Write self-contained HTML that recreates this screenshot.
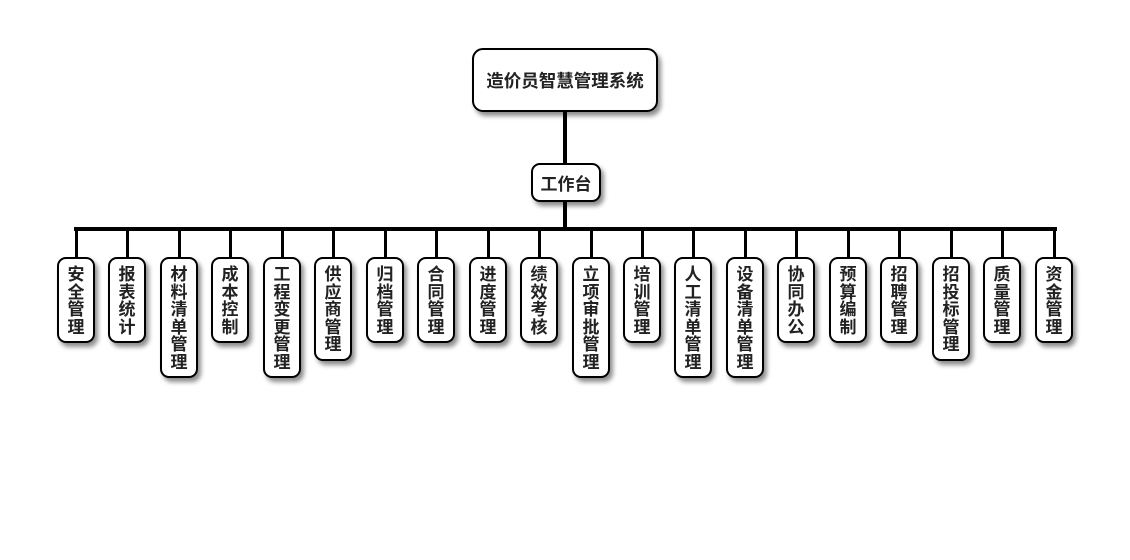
<!DOCTYPE html>
<html>
<head>
<meta charset="utf-8">
<style>
  html,body{margin:0;padding:0;background:#fff;}
  body{width:1130px;height:560px;position:relative;overflow:hidden;
    font-family:"Liberation Sans","Noto Sans CJK SC","WenQuanYi Zen Hei",sans-serif;}
  .box{position:absolute;box-sizing:border-box;border:2px solid #000;background:#fff;
    box-shadow:3px 4px 5px rgba(0,0,0,0.45);color:#222;font-weight:bold;}
  .h{display:flex;align-items:center;justify-content:center;font-size:17px;}
  .v{width:38px;border-radius:9px;font-size:17px;line-height:17.5px;text-align:center;
    padding-top:7px;}
  .v span{display:block;}
  .ln{position:absolute;background:#000;}
</style>
</head>
<body>
<!-- connectors -->
<div class="ln" style="left:563px;top:110px;width:4px;height:55px;"></div>
<div class="ln" style="left:563px;top:200px;width:4px;height:30px;"></div>
<div class="ln" style="left:74px;top:227px;width:983px;height:4px;"></div>

<div class="box h" style="left:472px;top:48px;width:186px;height:64px;border-radius:11px;font-size:17.5px;">造价员智慧管理系统</div>
<div class="box h" style="left:531px;top:163px;width:70px;height:39px;border-radius:9px;">工作台</div>

<div id="c"></div>
<script>
var labels=["安全管理","报表统计","材料清单管理","成本控制","工程变更管理","供应商管理","归档管理","合同管理","进度管理","绩效考核","立项审批管理","培训管理","人工清单管理","设备清单管理","协同办公","预算编制","招聘管理","招投标管理","质量管理","资金管理"];
var html="";
for(var i=0;i<labels.length;i++){
  var left=Math.round(57+i*51.45);
  var cx=left+19;
  var n=labels[i].length;
  var h=16+17.5*n;
  html+='<div class="ln" style="left:'+(cx-1.5)+'px;top:229px;width:3.5px;height:30px;"></div>';
  var s="";
  for(var j=0;j<n;j++) s+="<span>"+labels[i][j]+"</span>";
  html+='<div class="box v" style="left:'+left+'px;top:257px;height:'+h+'px;">'+s+'</div>';
}
document.getElementById("c").innerHTML=html;
</script>
</body>
</html>
